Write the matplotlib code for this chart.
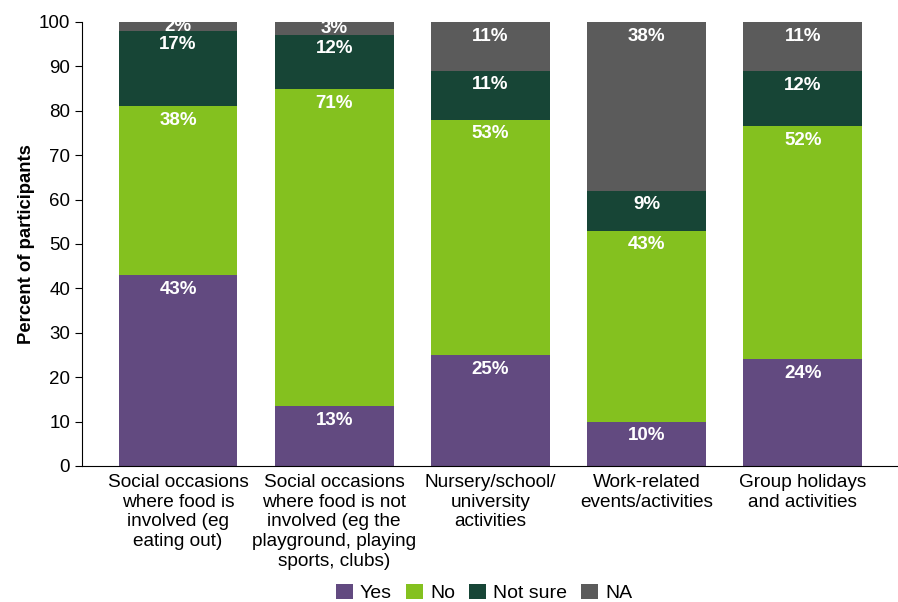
import matplotlib
import matplotlib.pyplot as plt
import numpy as np

categories = [
    "Social occasions\nwhere food is\ninvolved (eg\neating out)",
    "Social occasions\nwhere food is not\ninvolved (eg the\nplayground, playing\nsports, clubs)",
    "Nursery/school/\nuniversity\nactivities",
    "Work-related\nevents/activities",
    "Group holidays\nand activities",
]
series_names = ["Yes", "No", "Not sure", "NA"]
yes = [43.0, 13.4, 25.0, 10.0, 24.1]
no = [38.0, 71.4, 53.0, 43.0, 52.4]
not_sure = [17.0, 12.3, 11.0, 9.0, 12.4]
na = [2.0, 2.9, 11.0, 38.0, 11.1]
colors = ["#624A80", "#84C11F", "#174536", "#5B5B5B"]

plt.rcParams['font.family'] = ['Liberation Sans', 'DejaVu Sans']

fig = plt.figure(figsize=(8.98, 6.02), dpi=100)
ax = fig.add_axes([0.0913, 0.226, 0.9087, 0.7375])

x = np.arange(len(categories))
bottom = np.zeros(len(categories))
for name, vals, col in zip(series_names, [yes, no, not_sure, na], colors):
    vals = np.array(vals, dtype=float)
    ax.bar(x, vals, bottom=bottom, width=0.76, color=col, label=name)
    for xi, b, v in zip(x, bottom, vals):
        top = b + v
        if v < 5:
            ax.text(xi, b + v / 2, f"{v:.0f}%", ha='center', va='center',
                    color='white', fontsize=13.5, fontweight='bold')
        else:
            ax.annotate(f"{v:.0f}%", (xi, top), xytext=(0, -4),
                        textcoords='offset points', ha='center', va='top',
                        color='white', fontsize=13.5, fontweight='bold')
    bottom += vals

ax.set_xlim(-0.615, 4.61)
ax.set_ylim(0, 100)
ax.set_yticks(range(0, 101, 10))
ax.set_xticks(x)
ax.set_xticklabels(categories, fontsize=13.7, linespacing=1.2)
ax.tick_params(axis='x', length=0, pad=6)
ax.tick_params(axis='y', labelsize=13.5, length=5)
ax.spines['top'].set_visible(False)
ax.spines['right'].set_visible(False)
ax.set_ylabel("Percent of participants", fontsize=13.3, fontweight='bold', labelpad=3)

fig.legend(loc='lower center', bbox_to_anchor=(0.539, 0.0), ncol=4, frameon=False,
           fontsize=14, handlelength=0.88, handleheight=0.85, handletextpad=0.36,
           columnspacing=0.72, borderpad=0.0, borderaxespad=0.0)

fig.savefig("out.png", dpi=100)
